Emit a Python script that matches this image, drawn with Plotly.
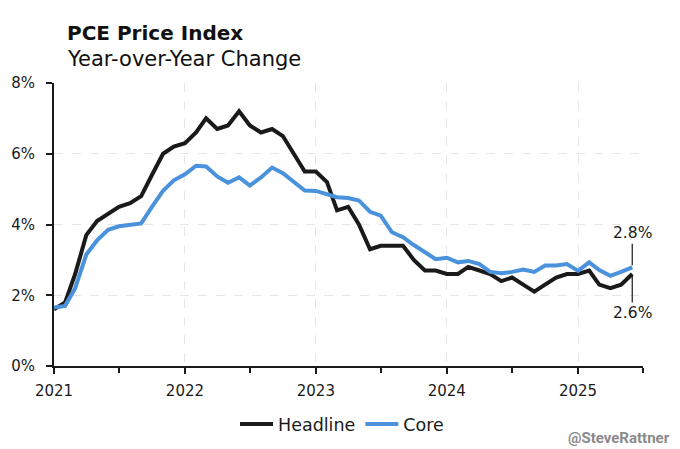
import plotly.graph_objects as go
import pandas as pd

months = pd.date_range("2021-01-01", "2025-06-01", freq="MS")

headline = [1.6, 1.8, 2.6, 3.7, 4.1, 4.3, 4.5, 4.6, 4.8, 5.4, 6.0, 6.2,
            6.3, 6.6, 7.0, 6.7, 6.8, 7.2, 6.8, 6.6, 6.7, 6.5, 6.0, 5.5,
            5.5, 5.2, 4.4, 4.5, 4.0, 3.3, 3.4, 3.4, 3.4, 3.0, 2.7, 2.7,
            2.6, 2.6, 2.8, 2.7, 2.6, 2.4, 2.5, 2.3, 2.1, 2.3, 2.5, 2.6,
            2.6, 2.7, 2.3, 2.2, 2.3, 2.6]
core = [1.65, 1.7, 2.2, 3.15, 3.55, 3.85, 3.95, 4.0, 4.03, 4.5, 4.95, 5.25,
        5.42, 5.66, 5.64, 5.36, 5.18, 5.33, 5.1, 5.33, 5.61, 5.45, 5.2, 4.96,
        4.95, 4.87, 4.77, 4.75, 4.68, 4.36, 4.25, 3.78, 3.64, 3.42, 3.2, 3.02,
        3.06, 2.93, 2.97, 2.88, 2.66, 2.62, 2.66, 2.73, 2.66, 2.84, 2.84, 2.88,
        2.69, 2.93, 2.71, 2.55, 2.66, 2.79]

BLACK = "#1a1a1a"
BLUE = "#4a92db"
FONT = "DejaVu Sans"
W, H = 680, 449
ML, MR, MT, MB = 54, 37, 83, 83
PW, PH = W - ML - MR, H - MT - MB


def px_x(x):
    return (x - ML) / PW


def px_y(y):
    return (H - MB - y) / PH


fig = go.Figure()
fig.add_trace(go.Scatter(x=months, y=headline, mode="lines", name="Headline",
                         line=dict(color=BLACK, width=4)))
fig.add_trace(go.Scatter(x=months, y=core, mode="lines", name="Core",
                         line=dict(color=BLUE, width=4)))

fig.update_layout(
    width=W, height=H,
    margin=dict(l=ML, r=MR, t=MT, b=MB, autoexpand=False),
    paper_bgcolor="white", plot_bgcolor="white",
    font=dict(family=FONT, size=15, color="#1a1a1a"),
    showlegend=True,
    legend=dict(orientation="h", x=px_x(342), xanchor="center",
                y=px_y(424), yanchor="middle",
                font=dict(size=17.5, color="#1a1a1a"), itemwidth=33, traceorder="normal"),
)

fig.update_xaxes(
    range=["2021-01-01", "2025-07-01"],
    tickvals=pd.date_range("2021-01-01", "2025-01-01", freq="YS"),
    tickformat="%Y", automargin=False,
    showline=True, linecolor="#1a1a1a", linewidth=2,
    ticks="outside", ticklen=6, tickcolor="#1a1a1a", tickwidth=1.5,
    showgrid=True, gridcolor="#e6e6e6", griddash="dash", gridwidth=1,
    minor=dict(dtick="M6", tick0="2021-01-01", ticks="outside", ticklen=5,
               tickcolor="#1a1a1a", tickwidth=1.5, showgrid=False),
    tickfont=dict(size=15), zeroline=False, fixedrange=True, ticklabelstandoff=4,
)
fig.update_yaxes(
    range=[0, 8], dtick=2, ticksuffix="%", automargin=False,
    showline=True, linecolor="#1a1a1a", linewidth=2,
    ticks="outside", ticklen=6, tickcolor="#1a1a1a", tickwidth=1.5,
    showgrid=True, gridcolor="#e6e6e6", griddash="dash", gridwidth=1,
    zeroline=False, tickfont=dict(size=15), ticklabelstandoff=8, fixedrange=True,
)

fig.add_annotation(xref="paper", yref="paper", x=px_x(65), y=px_y(33), xanchor="left", yanchor="middle",
                   text="<b>PCE Price Index</b>", showarrow=False,
                   font=dict(size=20, color="#111111"))
fig.add_annotation(xref="paper", yref="paper", x=px_x(65), y=px_y(58.5), xanchor="left", yanchor="middle",
                   text="Year-over-Year Change", showarrow=False,
                   font=dict(size=21, color="#111111"))

fig.add_annotation(x=months[-1], y=core[-1], text=f"{core[-1]:.1f}%", showarrow=True,
                   arrowhead=0, arrowwidth=1.2, arrowcolor="#1a1a1a", ax=0, ay=-34,
                   standoff=2, font=dict(size=15.5, color="#1a1a1a"))
fig.add_annotation(x=months[-1], y=headline[-1], text=f"{headline[-1]:.1f}%", showarrow=True,
                   arrowhead=0, arrowwidth=1.2, arrowcolor="#1a1a1a", ax=0, ay=39,
                   standoff=2, font=dict(size=15.5, color="#1a1a1a"))

fig.add_annotation(xref="paper", yref="paper", x=px_x(672), y=px_y(438),
                   xanchor="right", yanchor="middle",
                   text="<b>@SteveRattner</b>", showarrow=False,
                   font=dict(family="Roboto", size=15, color="#8a8a8a"))

fig.write_html("out.html", config={"displayModeBar": False},
               post_script="document.body.style.margin='0';")
